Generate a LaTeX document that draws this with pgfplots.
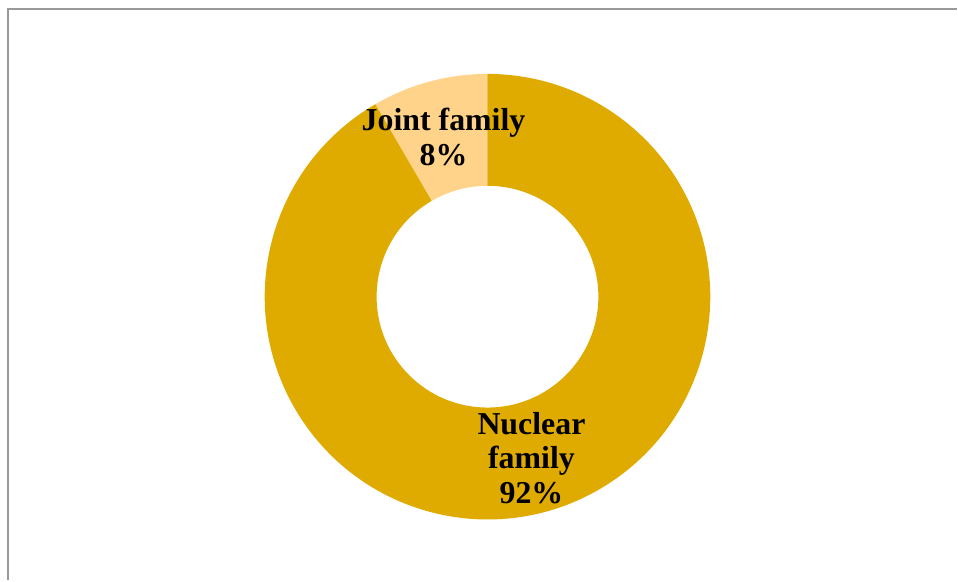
\documentclass[border=0pt]{standalone}
\usepackage{pgfplots}
\pgfplotsset{compat=1.18}
\usepackage{pgfplotstable}
\usepackage{fontspec}
\setmainfont{Liberation Serif}
\definecolor{nuclear}{HTML}{E0AB00}
\definecolor{joint}{HTML}{FFD38A}
\definecolor{frame}{HTML}{999999}
\pgfplotstableread{
label value
Joint 8.4
Nuclear 91.6
}\datatable
\begin{document}
\begin{tikzpicture}
\pgfplotstablegetelem{0}{value}\of\datatable \let\vjoint\pgfplotsretval
\pgfmathsetmacro{\aend}{90+3.6*\vjoint}
\begin{axis}[x=1bp,y=1bp,xmin=0,xmax=958,ymin=0,ymax=581,hide axis,clip=false,scale only axis]
\path (axis cs:0,0) rectangle (axis cs:958,581);
\draw[frame,line width=2bp] (axis cs:8.5,0) -- (axis cs:8.5,571.5) -- (axis cs:958,571.5);
\fill[joint] ([shift={(90:223bp)}]axis cs:488,284) arc[start angle=90, end angle=\aend, radius=223bp] -- ([shift={(\aend:111bp)}]axis cs:488,284) arc[start angle=\aend, end angle=90, radius=111bp] -- cycle;
\fill[nuclear] ([shift={(\aend:223bp)}]axis cs:488,284) arc[start angle=\aend, end angle=450, radius=223bp] -- ([shift={(450:111bp)}]axis cs:488,284) arc[start angle=450, end angle=\aend, radius=111bp] -- cycle;
\node[align=center,inner sep=0pt,font=\bfseries\fontsize{32}{35}\selectfont] at (axis cs:444,443.5) {Joint family\\8\%};
\node[align=center,inner sep=0pt,font=\bfseries\fontsize{32}{35}\selectfont] at (axis cs:532,122.5) {Nuclear\\family\\92\%};
\end{axis}
\end{tikzpicture}
\end{document}
